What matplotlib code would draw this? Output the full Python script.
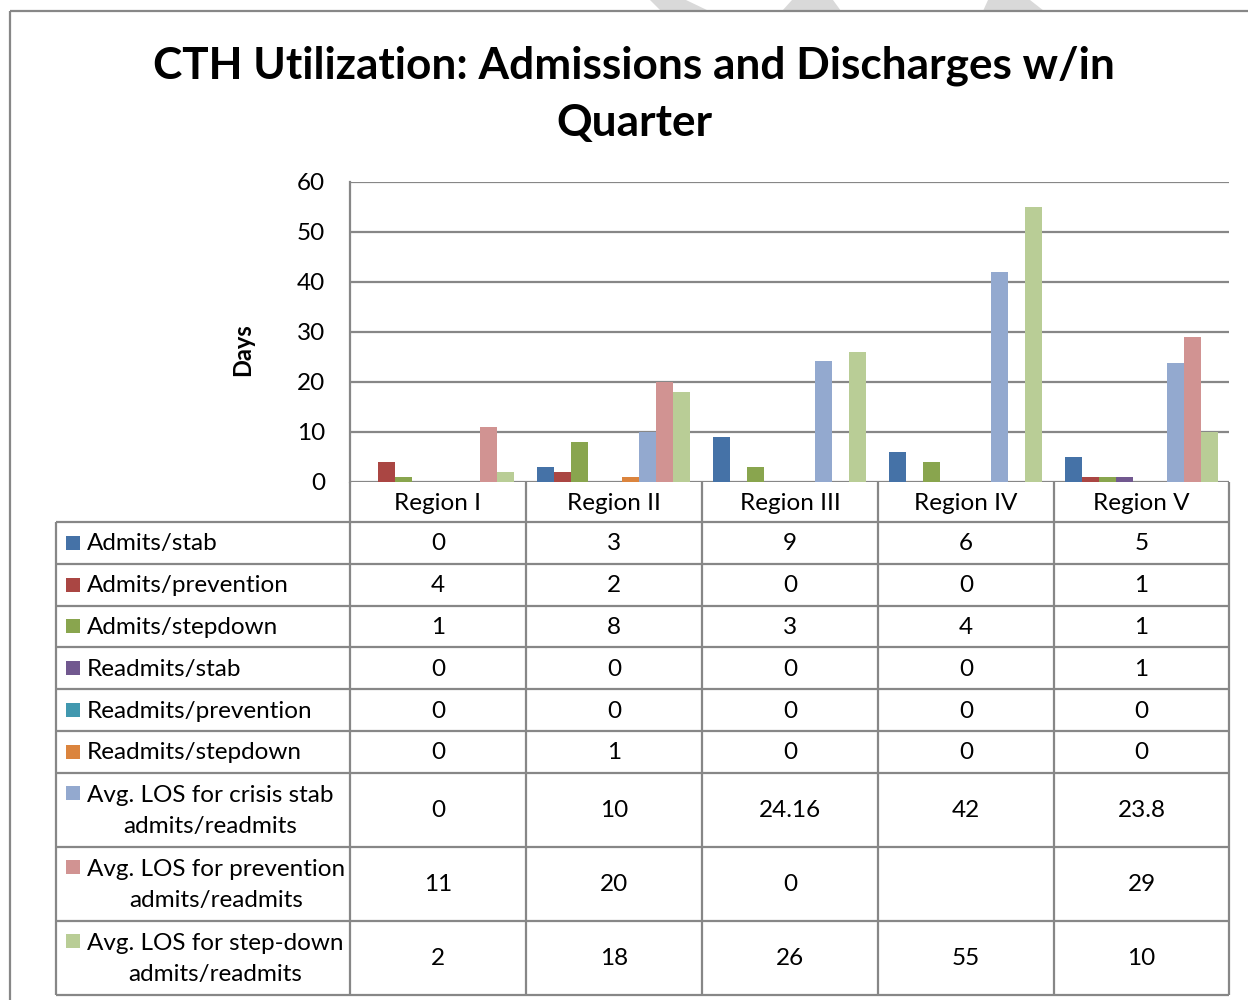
import numpy as np
import matplotlib
matplotlib.use("Agg")
import matplotlib.pyplot as plt
from matplotlib.patches import Rectangle, Polygon

plt.rcParams['font.family'] = ['Lato', 'DejaVu Sans']

# ---------------- data ----------------
regions = ["Region I", "Region II", "Region III", "Region IV", "Region V"]
series_names = [
    "Admits/stab",
    "Admits/prevention",
    "Admits/stepdown",
    "Readmits/stab",
    "Readmits/prevention",
    "Readmits/stepdown",
    "Avg. LOS for crisis stab\nadmits/readmits",
    "Avg. LOS for prevention\nadmits/readmits",
    "Avg. LOS for step-down\nadmits/readmits",
]
admits_stab = [0, 3, 9, 6, 5]
admits_prevention = [4, 2, 0, 0, 1]
admits_stepdown = [1, 8, 3, 4, 1]
readmits_stab = [0, 0, 0, 0, 1]
readmits_prevention = [0, 0, 0, 0, 0]
readmits_stepdown = [0, 1, 0, 0, 0]
los_crisis_stab = [0, 10, 24.16, 42, 23.8]
los_prevention = [11, 20, 0, np.nan, 29]
los_stepdown = [2, 18, 26, 55, 10]
series_values = [admits_stab, admits_prevention, admits_stepdown, readmits_stab,
                 readmits_prevention, readmits_stepdown, los_crisis_stab,
                 los_prevention, los_stepdown]
colors = ["#4572A7", "#AA4643", "#89A54E", "#71588F", "#4198AF", "#DB843D",
          "#93A9CF", "#D19392", "#B9CD96"]
yticks = [0, 10, 20, 30, 40, 50, 60]
title = "CTH Utilization: Admissions and Discharges w/in\nQuarter"
ylabel = "Days"

# ---------------- layout (pixels) ----------------
W, H = 1248, 1000
fig = plt.figure(figsize=(W / 100, H / 100), dpi=100)
bg = fig.add_axes([0, 0, 1, 1])
bg.set_xlim(0, W)
bg.set_ylim(H, 0)
bg.axis('off')

grid_c = "#878787"
lw = 1.6
fs = 17.5

# watermark fragments above the frame
for pts in [[(650, 0), (686, 0), (709, 11), (661, 11)],
            [(792, 0), (833, 0), (841, 11), (782, 11)],
            [(988, 0), (1030, 0), (1044, 11), (983, 11)]]:
    bg.add_patch(Polygon(pts, closed=True, color="#d9d9d9", lw=0, zorder=0))

# outer frame
bg.plot([10, 10], [11, H], color=grid_c, lw=lw, solid_capstyle='butt')
bg.plot([10, W], [11, 11], color=grid_c, lw=lw, solid_capstyle='butt')

# title
bg.text(634, 94, title, ha='center', va='center', fontsize=31.8, fontweight='bold',
        linespacing=1.52)

# y label
bg.text(243, 350, ylabel, ha='center', va='center', rotation=90,
        fontsize=17, fontweight='bold')

# plot area
x0, x1, y0, y1 = 350, 1229, 482, 182
ax = fig.add_axes([x0 / W, 1 - y0 / H, (x1 - x0) / W, (y0 - y1) / H])
ax.set_xlim(-0.5, len(regions) - 0.5)
ax.set_ylim(0, 60)
for s in ['top', 'right', 'bottom']:
    ax.spines[s].set_visible(False)
ax.spines['left'].set_color(grid_c)
ax.spines['left'].set_linewidth(lw)
ax.set_xticks([])
ax.set_yticks(yticks)
ax.tick_params(axis='y', length=0, pad=18, labelsize=fs)
ax.yaxis.grid(True, color=grid_c, lw=lw)
ax.set_axisbelow(True)
ax.set_facecolor('none')

n = len(series_values)
bw = 17 / 176
xs = np.arange(len(regions))
for k, (vals, c) in enumerate(zip(series_values, colors)):
    ax.bar(xs - (n - 1) / 2 * bw + k * bw, vals, width=bw, color=c,
           edgecolor='none', zorder=3)

# ---------------- data table ----------------
col_edges = [350, 526, 702, 878, 1054, 1229]
row_h = [41.8 if '\n' not in s else 74 for s in series_names]
row_edges = [522]
for h in row_h:
    row_edges.append(row_edges[-1] + h)
tl = 56
for y in row_edges:
    bg.plot([tl, col_edges[-1]], [y, y], color=grid_c, lw=lw, solid_capstyle='butt')
bg.plot([tl, tl], [row_edges[0], row_edges[-1]], color=grid_c, lw=lw, solid_capstyle='butt')
for x in col_edges:
    bg.plot([x, x], [482, row_edges[-1]], color=grid_c, lw=lw, solid_capstyle='butt')

for i, r in enumerate(regions):
    bg.text((col_edges[i] + col_edges[i + 1]) / 2, 503, r, ha='center', va='center',
            fontsize=fs)

def fmt(v):
    if v is None or (isinstance(v, float) and np.isnan(v)):
        return ""
    return f"{v:g}"

for j, (name, vals, c) in enumerate(zip(series_names, series_values, colors)):
    ytop, ybot = row_edges[j], row_edges[j + 1]
    yc = (ytop + ybot) / 2
    ymark = yc - 16.5 if '\n' in name else yc
    bg.add_patch(Rectangle((66, ymark - 7), 14, 14, color=c, lw=0))
    bg.text(87, yc + 1, name, ha='left', va='center', fontsize=fs,
            multialignment='center', linespacing=1.6)
    for i, v in enumerate(vals):
        bg.text((col_edges[i] + col_edges[i + 1]) / 2, yc + 1, fmt(v),
                ha='center', va='center', fontsize=fs)

fig.savefig("out.png", dpi=100)
